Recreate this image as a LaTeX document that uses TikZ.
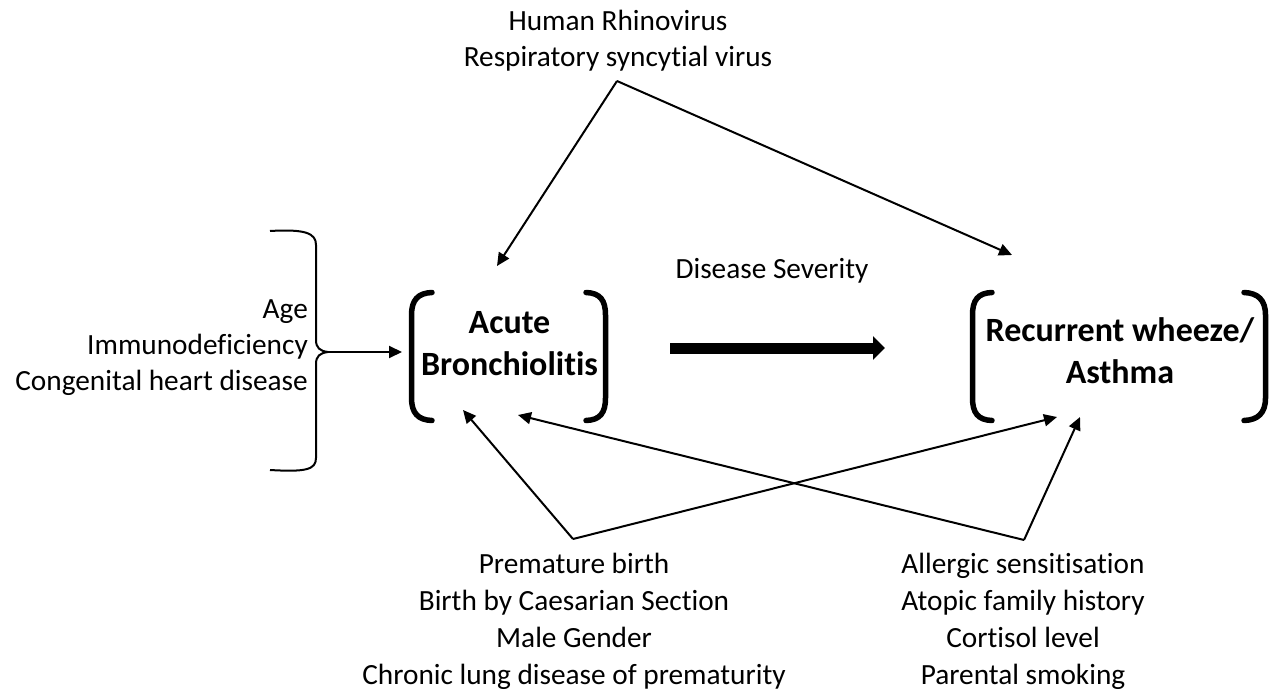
\documentclass[tikz,border=0pt]{standalone}
\usepackage{fontspec}
\setmainfont{Carlito}[Ligatures=NoCommon]
\usetikzlibrary{arrows.meta}
\tikzset{
  txt/.style={inner sep=0pt, align=center, font=\fontsize{29.3}{36}\selectfont},
  txtb/.style={inner sep=0pt, align=center, font=\fontsize{29.3}{36.8}\selectfont},
  bold/.style={inner sep=0pt, align=center, font=\fontsize{34}{42}\selectfont\bfseries},
  brk/.style={line width=5.5pt, line cap=round},
  thin/.style={line width=2pt, -{Triangle[length=13pt,width=12pt]}},
  brace/.style={line width=2pt},
  big/.style={line width=11pt, -{Triangle[length=12pt,width=23pt]}}
}
\begin{document}
\begin{tikzpicture}[x=1pt,y=-1pt]
\useasboundingbox (0,0) rectangle (1277,690);
% texts
\node[txt] (virus) at (618,41) {Human Rhinovirus\\Respiratory syncytial virus};
\node[txt, align=right, anchor=east] (risk) at (308,348) {Age\\Immunodeficiency\\Congenital heart disease};
\node[bold] (acute) at (509.5,343.5) {Acute\\Bronchiolitis};
\node[txt] (sev) at (772,270.5) {Disease Severity};
\node[bold] (asthma) at (1120,351) {Recurrent wheeze/\\Asthma};
\node[txtb] (bl) at (574,621.5) {Premature birth\\Birth by Caesarian Section\\Male Gender\\Chronic lung disease of prematurity};
\node[txtb] (br) at (1023,621.5) {Allergic sensitisation\\Atopic family history\\Cortisol level\\Parental smoking};
% brackets around Acute Bronchiolitis
\draw[brk] (432,292.5) .. controls (418,293) and (411.5,300) .. (411.5,315) -- (411.5,398) .. controls (411.5,413) and (418,420) .. (432,420.5);
\draw[brk] (586,292.5) .. controls (600,293) and (605.5,300) .. (605.5,315) -- (605.5,398) .. controls (605.5,413) and (600,420) .. (586,420.5);
% brackets around Recurrent wheeze / Asthma
\draw[brk] (992,292.5) .. controls (978,293) and (972.5,300) .. (972.5,315) -- (972.5,398) .. controls (972.5,413) and (978,420) .. (992,420.5);
\draw[brk] (1244,292.5) .. controls (1258,293) and (1265.5,300) .. (1265.5,315) -- (1265.5,398) .. controls (1265.5,413) and (1258,420) .. (1244,420.5);
% brace
\coordinate (btip) at (328,352);
\draw[brace] (270,231) .. controls (305,229) and (316,233) .. (316,245) -- (316,340) .. controls (316,348) and (320,351) .. (btip)
  .. controls (320,353) and (316,356) .. (316,364) -- (316,458) .. controls (316,470) and (305,472) .. (270,470);
% connector anchors
\coordinate (vtop) at (617,81);
\coordinate (vbl) at (573,539);
\coordinate (vbr) at (1024,540);
\coordinate (acIn) at (402,352);
\coordinate (acTop) at (497,266);
\coordinate (acBL) at (463,410);
\coordinate (acBR) at (518,415);
\coordinate (asTop) at (1012,255);
\coordinate (asBL) at (1057,417);
\coordinate (asBR) at (1080,417);
\coordinate (sevL) at (670,348);
\coordinate (sevR) at (885,348);
% connectors
\draw[thin] (btip) -- (acIn);
\draw[thin] (vtop) -- (acTop);
\draw[thin] (vtop) -- (asTop);
\draw[thin] (vbl) -- (acBL);
\draw[thin] (vbl) -- (asBL);
\draw[thin] (vbr) -- (asBR);
\draw[thin] (vbr) -- (acBR);
\draw[big] (sevL) -- (sevR);
\end{tikzpicture}
\end{document}
